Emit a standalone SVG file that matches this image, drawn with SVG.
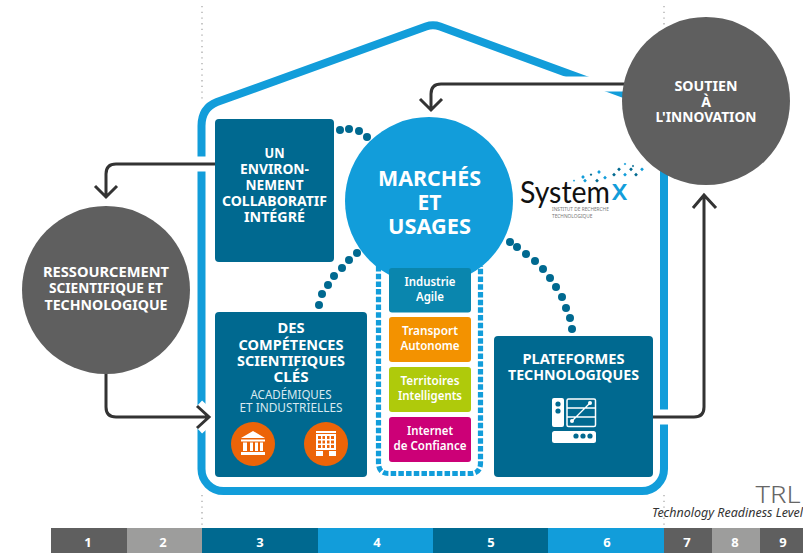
<svg xmlns="http://www.w3.org/2000/svg" width="803" height="553" viewBox="0 0 803 553">
<style>
text{font-family:"Noto Sans","Open Sans","Liberation Sans",sans-serif;text-anchor:middle}
.b{font-weight:700;fill:#fff;font-size:14px}
.m{font-weight:600;fill:#fff;font-size:12px}
.t{font-weight:400;fill:#d9eaf1;font-size:12px}
.n{font-weight:700;fill:#fff;font-size:13px}
.box{fill:#006990}
.dot{fill:#006990}
.halo{fill:none;stroke:#fff;stroke-width:15}
.conn{fill:none;stroke:#333;stroke-width:3}
.guide{fill:none;stroke:#aaa;stroke-width:1.3;stroke-dasharray:1.3 4.4}
.icon{fill:#fff}
.hole{fill:#006990}
.or{fill:#ec6408}
.d1{fill:#006990}.d2{fill:#129dda}
</style>
<defs>
<path id="arrL" d="M215 164H116Q106 164 106 174V197M95 186L106 197L117 186"/>
<path id="arrB" d="M106 370V407Q106 417 116 417H209M197 406L209 417L197 428"/>
<path id="arrR" d="M653 417H694Q704 417 704 407V195M693 208L704 195L716 208"/>
<path id="arrT" d="M625 84H441Q431 84 431 94V110M420 99L431 110L442 99"/>
<path id="dm" d="M0-1.9L1.9 0L0 1.9L-1.900 0Z"/>
</defs>
<rect width="803" height="553" fill="#fff"/>
<g id="guides">
<path class="guide" d="M202 6V102M202 495V528M664 6V26M664 495V528"/>
</g>
<g id="house">
<path d="M201.500 126Q201.500 108 217 102L426 26.500Q433 24 440 26.500L650 103.500Q664 108.500 664 122V469A22 22 0 0 1 642 491H223.500A22 22 0 0 1 201.500 469Z" fill="none" stroke="#129dda" stroke-width="8"/>
</g>
<g id="connectors">
<use href="#arrL" class="halo"/><use href="#arrB" class="halo"/><use href="#arrR" class="halo"/><use href="#arrT" class="halo"/>
<use href="#arrL" class="conn"/><use href="#arrB" class="conn"/><use href="#arrR" class="conn"/><use href="#arrT" class="conn"/>
</g>
<g id="dots">
<circle class="dot" cx="340" cy="130" r="4"/><circle class="dot" cx="349" cy="129" r="4"/><circle class="dot" cx="359" cy="131" r="4"/><circle class="dot" cx="367" cy="137" r="4"/>
<circle class="dot" cx="357" cy="253" r="4"/><circle class="dot" cx="349" cy="260" r="4"/><circle class="dot" cx="342" cy="268" r="4"/><circle class="dot" cx="334" cy="276" r="4"/><circle class="dot" cx="328" cy="285" r="4"/><circle class="dot" cx="322" cy="294" r="4"/><circle class="dot" cx="319" cy="305" r="4"/>
<circle class="dot" cx="510" cy="242" r="4"/><circle class="dot" cx="517" cy="247" r="4"/><circle class="dot" cx="526" cy="254" r="4"/><circle class="dot" cx="535" cy="261" r="4"/><circle class="dot" cx="543" cy="269" r="4"/><circle class="dot" cx="550" cy="278" r="4"/><circle class="dot" cx="556" cy="287" r="4"/><circle class="dot" cx="562" cy="297" r="4"/><circle class="dot" cx="566" cy="308" r="4"/><circle class="dot" cx="570" cy="318" r="4"/><circle class="dot" cx="572" cy="329" r="4"/>
</g>
<g id="usecase-frame">
<path d="M378.500 266V463Q378.500 473.500 389 473.500H470Q480.500 473.500 480.500 463V266" fill="none" stroke="#129dda" stroke-width="5.200" stroke-dasharray="5.500 2.200"/>
</g>
<g id="node-environnement">
<rect class="box" x="215" y="119" width="119" height="143" rx="4"/>
<text class="b" x="274.500" y="158" textLength="20" lengthAdjust="spacingAndGlyphs">UN</text>
<text class="b" x="274.500" y="174" textLength="69" lengthAdjust="spacingAndGlyphs">ENVIRON-</text>
<text class="b" x="274.500" y="190" textLength="58" lengthAdjust="spacingAndGlyphs">NEMENT</text>
<text class="b" x="274.500" y="206" textLength="105" lengthAdjust="spacingAndGlyphs">COLLABORATIF</text>
<text class="b" x="274.500" y="222" textLength="61" lengthAdjust="spacingAndGlyphs">INTÉGRÉ</text>
</g>
<g id="node-competences">
<rect class="box" x="215" y="312" width="152" height="165" rx="4"/>
<text class="b" x="291" y="333" textLength="27" lengthAdjust="spacingAndGlyphs">DES</text>
<text class="b" x="291" y="350" textLength="105" lengthAdjust="spacingAndGlyphs">COMPÉTENCES</text>
<text class="b" x="291" y="366" textLength="108" lengthAdjust="spacingAndGlyphs">SCIENTIFIQUES</text>
<text class="b" x="291" y="382" textLength="35" lengthAdjust="spacingAndGlyphs">CLÉS</text>
<text class="t" x="291" y="399" textLength="81" lengthAdjust="spacingAndGlyphs">ACADÉMIQUES</text>
<text class="t" x="291" y="412" textLength="103" lengthAdjust="spacingAndGlyphs">ET INDUSTRIELLES</text>
<circle class="or" cx="253" cy="444" r="22"/>
<path class="icon" d="M253 431L265 438H241ZM241 439.500H265V441.500H241ZM243 442.500H247V451H243ZM250 442.500H253V451H250ZM255 442.500H258V451H255ZM260 442.500H263V451H260ZM241 452H265V455H241Z"/>
<circle class="or" cx="326" cy="444" r="22"/>
<path class="icon" fill-rule="evenodd" d="M316 431H336V433H316ZM316 434H336V450H316ZM318 436V439H321V436ZM322.500 436V439H325V436ZM327 436V439H329.500V436ZM331 436V439H334V436ZM318 440.500V443.500H321V440.500ZM322.500 440.500V443.500H325V440.500ZM327 440.500V443.500H329.500V440.500ZM331 440.500V443.500H334V440.500ZM318 445V448H321V445ZM322.500 445V448H325V445ZM327 445V448H329.500V445ZM331 445V448H334V445ZM316 451H323V456H316ZM329 451H336V456H329Z"/>
</g>
<g id="node-plateformes">
<rect class="box" x="494" y="336" width="159" height="141" rx="4"/>
<text class="b" x="573.500" y="364" textLength="102" lengthAdjust="spacingAndGlyphs">PLATEFORMES</text>
<text class="b" x="573.500" y="380" textLength="131" lengthAdjust="spacingAndGlyphs">TECHNOLOGIQUES</text>
<rect class="icon" x="552" y="398" width="12" height="29" rx="2"/>
<circle class="hole" cx="558" cy="404" r="2.600"/><circle class="hole" cx="558" cy="411" r="2.600"/>
<rect x="567" y="399" width="28.500" height="27.500" rx="1.500" fill="none" stroke="#fff" stroke-width="1.500"/>
<path d="M567 408H596M567 417H596M572 421L590 403" fill="none" stroke="#fff" stroke-width="1.300"/>
<circle class="icon" cx="572" cy="421" r="2"/><circle class="icon" cx="590" cy="403" r="2"/>
<rect class="icon" x="552" y="431" width="44" height="12" rx="2.500"/>
<circle class="hole" cx="576" cy="436" r="2.600"/><circle class="hole" cx="583" cy="436" r="2.600"/><circle class="hole" cx="590" cy="436" r="2.600"/>
</g>
<g id="node-marches">
<circle cx="429" cy="201" r="84" fill="#129dda"/>
<text x="429.500" y="186" font-size="21" font-weight="700" fill="#fff" textLength="103" lengthAdjust="spacingAndGlyphs">MARCHÉS</text>
<text x="429.500" y="210" font-size="21" font-weight="700" fill="#fff">ET</text>
<text x="429.500" y="234" font-size="21" font-weight="700" fill="#fff" textLength="83" lengthAdjust="spacingAndGlyphs">USAGES</text>
</g>
<g id="node-industrie">
<rect x="389" y="268" width="82" height="44.500" rx="3" fill="#0a86ae"/>
<text class="m" x="430" y="286" textLength="51" lengthAdjust="spacingAndGlyphs">Industrie</text>
<text class="m" x="430" y="301" textLength="28" lengthAdjust="spacingAndGlyphs">Agile</text>
</g>
<g id="node-transport">
<rect x="389" y="317" width="82" height="45" rx="3" fill="#f39200"/>
<text class="m" x="430" y="335" textLength="56" lengthAdjust="spacingAndGlyphs">Transport</text>
<text class="m" x="430" y="350" textLength="59" lengthAdjust="spacingAndGlyphs">Autonome</text>
</g>
<g id="node-territoires">
<rect x="389" y="367" width="82" height="45" rx="3" fill="#afca0b"/>
<text class="m" x="430" y="385" textLength="59" lengthAdjust="spacingAndGlyphs">Territoires</text>
<text class="m" x="430" y="400" textLength="64" lengthAdjust="spacingAndGlyphs">Intelligents</text>
</g>
<g id="node-internet">
<rect x="389" y="417" width="82" height="45" rx="3" fill="#cc0077"/>
<text class="m" x="430" y="435" textLength="46" lengthAdjust="spacingAndGlyphs">Internet</text>
<text class="m" x="430" y="450" textLength="73" lengthAdjust="spacingAndGlyphs">de Confiance</text>
</g>
<g id="node-ressourcement">
<circle cx="106" cy="290" r="84" fill="#5f5f5f"/>
<text class="b" x="106" y="277" textLength="126" lengthAdjust="spacingAndGlyphs">RESSOURCEMENT</text>
<text class="b" x="106" y="293" textLength="114" lengthAdjust="spacingAndGlyphs">SCIENTIFIQUE ET</text>
<text class="b" x="106" y="310" textLength="123" lengthAdjust="spacingAndGlyphs">TECHNOLOGIQUE</text>
</g>
<g id="node-soutien">
<circle cx="706" cy="101" r="84" fill="#5f5f5f"/>
<text class="b" x="706" y="91" textLength="63" lengthAdjust="spacingAndGlyphs">SOUTIEN</text>
<text class="b" x="706" y="107">À</text>
<text class="b" x="706" y="122" textLength="101" lengthAdjust="spacingAndGlyphs">L'INNOVATION</text>
</g>
<g id="logo">
<text x="520" y="203" font-size="31" fill="#111" textLength="90" lengthAdjust="spacingAndGlyphs" style="text-anchor:start;font-family:Lato,sans-serif;font-weight:400">System</text>
<text x="611.500" y="200" font-size="28" fill="#129dda" textLength="16" lengthAdjust="spacingAndGlyphs" style="text-anchor:start;font-weight:500">x</text>
<text x="552" y="211" font-size="4.800" fill="#777" style="text-anchor:start">INSTITUT DE RECHERCHE</text>
<text x="552" y="217.500" font-size="4.800" fill="#777" style="text-anchor:start">TECHNOLOGIQUE</text>
<use href="#dm" class="d2" transform="translate(574 180.700) scale(.6)"/><use href="#dm" class="d2" transform="translate(583 177)"/><use href="#dm" class="d2" transform="translate(585 180.700)"/><use href="#dm" class="d1" transform="translate(591 174.700) scale(.7)"/><use href="#dm" class="d1" transform="translate(597 180.700)"/><use href="#dm" class="d2" transform="translate(599 172)"/><use href="#dm" class="d2" transform="translate(605 177.700)"/><use href="#dm" class="d1" transform="translate(614 174.700)"/><use href="#dm" class="d1" transform="translate(619 169.300)"/><use href="#dm" class="d2" transform="translate(625 164) scale(.7)"/><use href="#dm" class="d2" transform="translate(625 174.700)"/><use href="#dm" class="d1" transform="translate(631 169.300)"/><use href="#dm" class="d1" transform="translate(633 166) scale(.6)"/><use href="#dm" class="d1" transform="translate(636 174.700)"/><use href="#dm" class="d2" transform="translate(642 169.300)"/>
</g>
<g id="trl">
<text x="778" y="502.500" font-size="23" font-weight="300" fill="#666" textLength="45" lengthAdjust="spacingAndGlyphs">TRL</text>
<text x="727.500" y="517" font-size="12" font-style="italic" fill="#333" textLength="151" lengthAdjust="spacingAndGlyphs">Technology Readiness Level</text>
<rect x="51" y="528" width="76" height="25" fill="#5f5f5f"/>
<rect x="127" y="528" width="75" height="25" fill="#9d9d9c"/>
<rect x="202" y="528" width="116" height="25" fill="#006990"/>
<rect x="318" y="528" width="115" height="25" fill="#129dda"/>
<rect x="433" y="528" width="115" height="25" fill="#006990"/>
<rect x="548" y="528" width="116" height="25" fill="#129dda"/>
<rect x="664" y="528" width="48" height="25" fill="#5f5f5f"/>
<rect x="712" y="528" width="48" height="25" fill="#9d9d9c"/>
<rect x="760" y="528" width="43" height="25" fill="#5f5f5f"/>
<text class="n" x="88" y="547">1</text><text class="n" x="163" y="547">2</text><text class="n" x="260" y="547">3</text><text class="n" x="377" y="547">4</text><text class="n" x="491" y="547">5</text><text class="n" x="607" y="547">6</text><text class="n" x="687" y="547">7</text><text class="n" x="735" y="547">8</text><text class="n" x="783" y="547">9</text>
</g>
</svg>
